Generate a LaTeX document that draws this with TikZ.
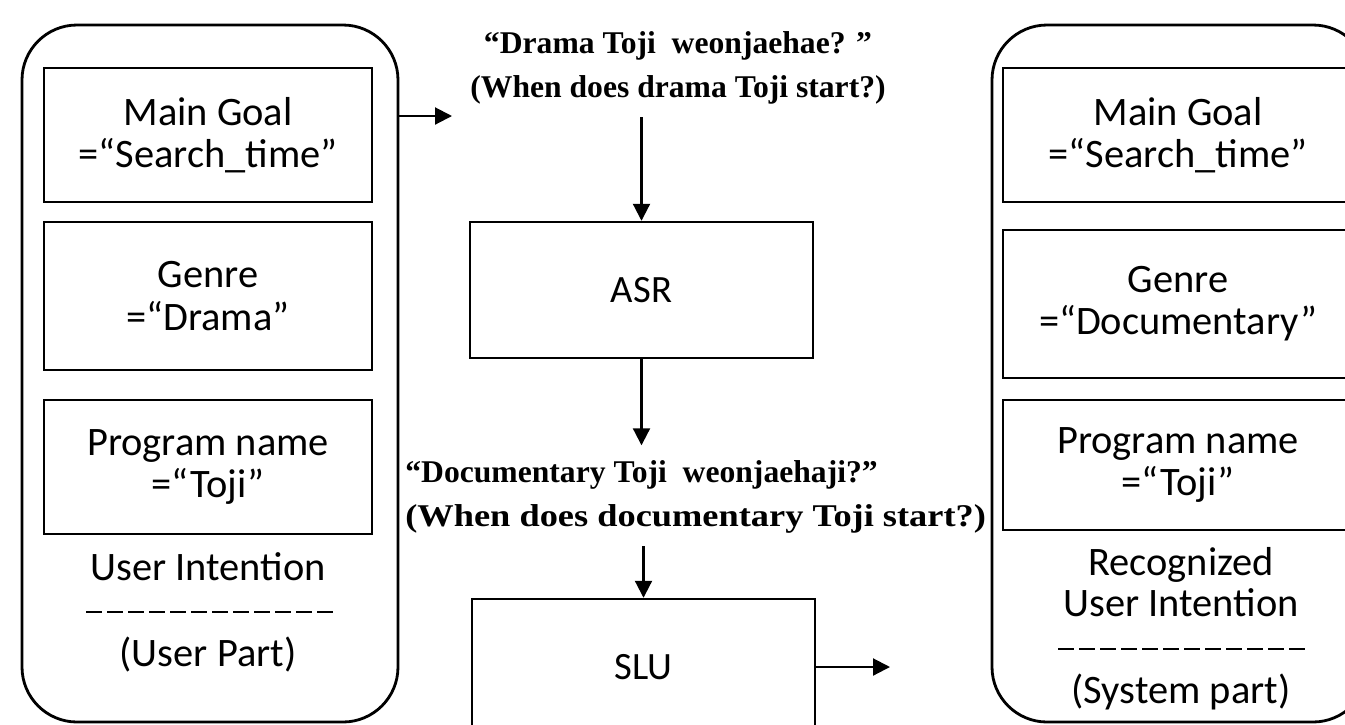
\documentclass[tikz,border=0pt]{standalone}
\usepackage{fontspec}
\usepackage{graphicx}
\setmainfont{Liberation Serif}
\setsansfont{Carlito}
\usetikzlibrary{arrows.meta,positioning}

\tikzset{
  part/.style={draw, line width=1.6pt, rounded corners=1.1cm,
    minimum width=7.52cm, minimum height=13.94cm},
  slotbox/.style={draw, line width=1.4pt, align=center,
    font=\sffamily\fontsize{23}{24}\selectfont},
  modbox/.style={draw, line width=1.4pt, minimum width=6.86cm,
    minimum height=2.72cm, font=\sffamily\fontsize{22}{24}\selectfont},
  utter/.style={font=\bfseries\fontsize{18}{25}\selectfont, inner sep=0pt},
  caption/.style={font=\sffamily\fontsize{23}{23}\selectfont, align=center},
  sep/.style={line width=1pt, dash pattern=on 9pt off 2.96pt},
  arr/.style={line width=1.2pt, -{Triangle[length=0.34cm,width=0.34cm]}},
}

\begin{document}
\begin{tikzpicture}
  \clip (0,0) rectangle (26.9,-14.48);

  % User side
  \node[part] (user) at (4.2,-7.47) {};
  \node[slotbox, minimum width=6.56cm, minimum height=2.68cm] (ugoal) at (4.16,-2.7) {Main Goal\\=“Search\_time”};
  \node[slotbox, minimum width=6.56cm, minimum height=2.96cm] (ugenre) at (4.16,-5.92) {Genre\\=“Drama”};
  \node[slotbox, minimum width=6.56cm, minimum height=2.68cm] (uprog) at (4.16,-9.34) {Program name\\=“Toji”};
  \node[caption] (ucap) at (4.16,-11.34) {User Intention};
  \node[caption] (upart) at (4.16,-13.1) {(User Part)};
  \draw[sep] (1.72,-12.24) -- (6.68,-12.24);

  % System side
  \node[part] (sys) at (23.6,-7.47) {};
  \node[slotbox, minimum width=7cm, minimum height=2.68cm] (sgoal) at (23.56,-2.7) {Main Goal\\=“Search\_time”};
  \node[slotbox, minimum width=7cm, minimum height=2.96cm] (sgenre) at (23.56,-6.08) {Genre\\=“Documentary”};
  \node[slotbox, minimum width=7cm, minimum height=2.6cm] (sprog) at (23.56,-9.3) {Program name\\=“Toji”};
  \node[caption] (scap) at (23.62,-11.64) {Recognized\\User Intention};
  \node[caption] (spart) at (23.62,-13.84) {(System part)};
  \draw[sep] (21.16,-12.98) -- (26.12,-12.98);

  % Recognition chain
  \node[utter, align=center] (utt1) at (13.56,-1.36) {“Drama Toji \ weonjaehae? ”\\(When does drama Toji start?)};
  \node[modbox] (asr) at (12.83,-5.8) {ASR};
  \node[utter, align=left, anchor=west] (utt2) at (8.1,-9.94) {“Documentary Toji \ weonjaehaji?”\\\scalebox{1.15}[1]{(When does documentary Toji start?)}};
  \node[modbox] (slu) at (12.87,-13.34) {SLU};

  \coordinate (in1) at (9.04,-2.32);
  \coordinate (out1) at (17.8,-13.34);
  \draw[arr] (user.east |- in1) -- (in1);
  \draw[arr] ([yshift=-0.25cm]utt1.south -| asr.north) -- (asr.north);
  \draw[arr] (asr.south) -- ([yshift=0.3cm]utt2.north -| asr.south);
  \draw[arr] ([yshift=-0.25cm]utt2.south -| slu.north) -- (slu.north);
  \draw[arr] (slu.east) -- (out1);
\end{tikzpicture}
\end{document}
